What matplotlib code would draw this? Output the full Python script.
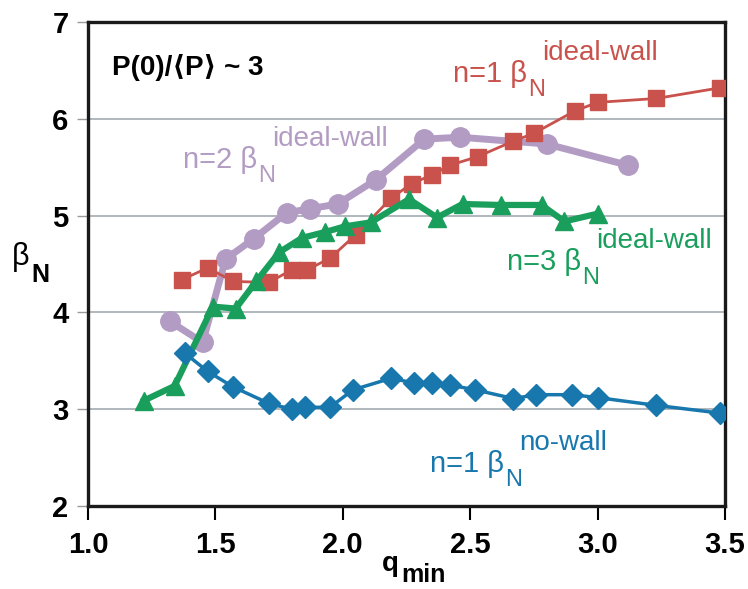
import matplotlib
matplotlib.use("Agg")
import matplotlib.pyplot as plt

plt.rcParams['font.family'] = ['Liberation Sans', 'DejaVu Sans']

# n=1 no-wall
q_nowall = [1.38, 1.47, 1.57, 1.71, 1.80, 1.85, 1.95, 2.04, 2.19, 2.28,
            2.35, 2.42, 2.52, 2.67, 2.76, 2.90, 3.00, 3.23, 3.48]
b_nowall = [3.58, 3.39, 3.23, 3.06, 3.00, 3.02, 3.02, 3.20, 3.32, 3.27,
            3.27, 3.25, 3.20, 3.11, 3.15, 3.15, 3.12, 3.04, 2.96]

# n=1 ideal-wall
q_n1 = [1.37, 1.47, 1.57, 1.71, 1.80, 1.86, 1.95, 2.05, 2.19, 2.27,
        2.35, 2.42, 2.53, 2.67, 2.75, 2.91, 3.00, 3.23, 3.48]
b_n1 = [4.34, 4.46, 4.32, 4.31, 4.44, 4.44, 4.56, 4.80, 5.18, 5.33,
        5.42, 5.52, 5.61, 5.77, 5.85, 6.08, 6.17, 6.21, 6.32]

# n=2 ideal-wall
q_n2 = [1.32, 1.45, 1.54, 1.65, 1.78, 1.87, 1.98, 2.13, 2.32, 2.46, 2.80, 3.12]
b_n2 = [3.91, 3.69, 4.55, 4.76, 5.03, 5.07, 5.12, 5.37, 5.79, 5.81, 5.74, 5.52]

# n=3 ideal-wall
q_n3 = [1.22, 1.34, 1.49, 1.58, 1.66, 1.75, 1.84, 1.93, 2.01, 2.11,
        2.26, 2.37, 2.47, 2.62, 2.78, 2.87, 3.00]
b_n3 = [3.09, 3.24, 4.06, 4.04, 4.32, 4.62, 4.77, 4.83, 4.89, 4.93,
        5.17, 4.98, 5.12, 5.11, 5.11, 4.94, 5.02]

xticks = [1.0, 1.5, 2.0, 2.5, 3.0, 3.5]
yticks = [2, 3, 4, 5, 6, 7]

red = '#c9524c'
purple = '#b39cc4'
green = '#1a9e5c'
blue = '#1878ae'

fig = plt.figure(figsize=(7.48, 5.89), dpi=100)
ax = fig.add_axes([0.1176, 0.1409, 0.8516, 0.8217])

for y in [3, 4, 5, 6]:
    ax.axhline(y, color='#a3acb2', lw=1.2, zorder=0)

ax.plot(q_n2, b_n2, color=purple, lw=5, marker='o', ms=14, zorder=2)
ax.plot(q_n1, b_n1, color=red, lw=2, marker='s', ms=11, zorder=3)
ax.plot(q_n3, b_n3, color=green, lw=4.5, marker='^', ms=13, zorder=4)
ax.plot(q_nowall, b_nowall, color=blue, lw=2.5, marker='D', ms=11, zorder=5)

ax.set_xlim(1.0, 3.5)
ax.set_ylim(2, 7)
ax.set_xticks(xticks)
ax.set_xticklabels(['%.1f' % v for v in xticks], fontsize=21, fontweight='bold')
ax.set_yticks(yticks)
ax.set_yticklabels([str(v) for v in yticks], fontsize=21, fontweight='bold')
ax.tick_params(axis='x', direction='out', length=10, width=1.5, pad=8)
ax.tick_params(axis='y', direction='out', length=8, width=1, color='#999999', pad=6)
for s in ax.spines.values():
    s.set_linewidth(2.4)
    s.set_color('#1a1a1a')

# axis labels
fig.text(382 / 748, 1 - 571 / 589, 'q', fontsize=20, fontweight='bold', va='baseline')
fig.text(401 / 748, 1 - 582 / 589, 'min', fontsize=18, fontweight='bold', va='baseline')
fig.text(12 / 748, 1 - 265 / 589, 'β', fontsize=22, va='baseline')
fig.text(31 / 748, 1 - 282 / 589, 'N', fontsize=18, fontweight='bold', va='baseline')

ax.text(1.094, 6.452, 'P(0)/⟨P⟩ ~ 3', fontsize=20, fontweight='bold', va='baseline')


# series labels: head text, then subscript N and superscript placed off its right edge
def label(x, y, head, sup, c):
    t = ax.text(x, y, head, fontsize=21, color=c, va='baseline')
    ax.annotate('N', xy=(1, 0), xycoords=t, xytext=(1, -9), textcoords='offset points',
                fontsize=17, color=c, va='bottom', ha='left')
    ax.annotate(sup, xy=(1, 0), xycoords=t, xytext=(11, 20), textcoords='offset points',
                fontsize=20, color=c, va='baseline', ha='left')


label(2.432, 6.38, 'n=1 β', 'ideal-wall', red)
label(1.373, 5.49, 'n=2 β', 'ideal-wall', purple)
label(2.644, 4.438, 'n=3 β', 'ideal-wall', green)
label(2.342, 2.351, 'n=1 β', 'no-wall', blue)

fig.savefig('out.png', dpi=100)
